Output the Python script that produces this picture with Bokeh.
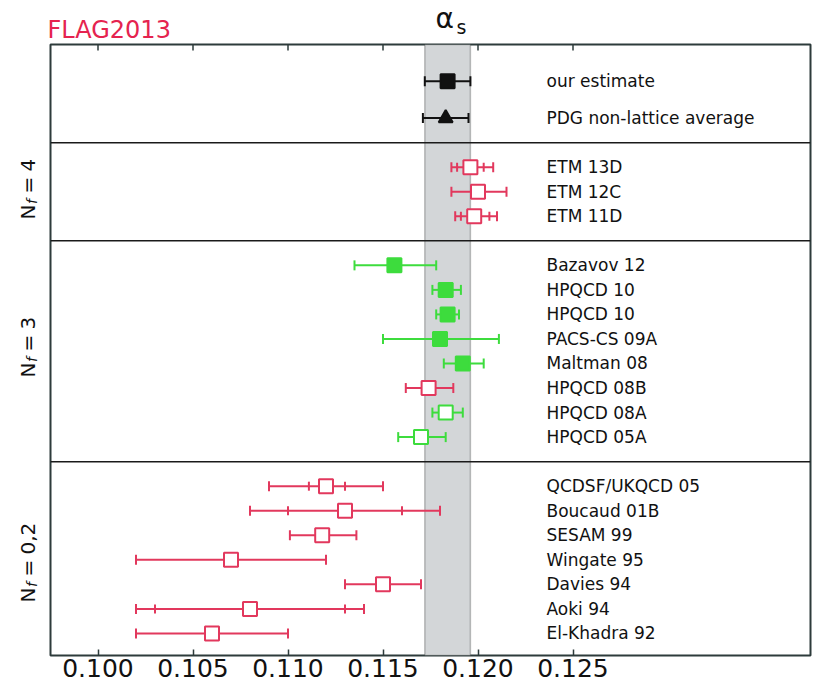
import numpy as np
from bokeh.plotting import figure
from bokeh.layouts import column, row
from bokeh.models import FixedTicker, LinearAxis, Span, BoxAnnotation, Label, ColumnDataSource, Range1d
from bokeh.core.properties import value
from bokeh.embed import file_html
from bokeh.resources import INLINE

# ---------------- data (top to bottom) ----------------
labels = ["our estimate", "PDG non-lattice average",
          "ETM 13D", "ETM 12C", "ETM 11D",
          "Bazavov 12", "HPQCD 10", "HPQCD 10", "PACS-CS 09A", "Maltman 08",
          "HPQCD 08B", "HPQCD 08A", "HPQCD 05A",
          "QCDSF/UKQCD 05", "Boucaud 01B", "SESAM 99", "Wingate 95",
          "Davies 94", "Aoki 94", "El-Khadra 92"]
group = ["avg", "avg",
         "4", "4", "4",
         "3", "3", "3", "3", "3", "3", "3", "3",
         "02", "02", "02", "02", "02", "02", "02"]
alpha_s = [0.1184, 0.1183,
           0.1196, 0.1200, 0.1198,
           0.1156, 0.1183, 0.1184, 0.1180, 0.1192, 0.1174, 0.1183, 0.1170,
           0.1120, 0.1130, 0.1118, 0.1070, 0.1150, 0.1080, 0.1060]
tot_lo = [0.1172, 0.1171,
          0.1186, 0.1186, 0.1188,
          0.1135, 0.1176, 0.1178, 0.1150, 0.1182, 0.1162, 0.1176, 0.1158,
          0.1090, 0.1080, 0.1101, 0.1020, 0.1130, 0.1020, 0.1020]
tot_hi = [0.1196, 0.1195,
          0.1208, 0.1215, 0.1210,
          0.1178, 0.1191, 0.1190, 0.1211, 0.1203, 0.1187, 0.1192, 0.1183,
          0.1150, 0.1180, 0.1136, 0.1120, 0.1170, 0.1140, 0.1100]
stat_lo = [None, None,
           0.1189, None, 0.1191,
           None, None, None, None, None, None, None, None,
           0.1111, 0.1100, None, None, None, 0.1030, None]
stat_hi = [None, None,
           0.1203, None, 0.1206,
           None, None, None, None, None, None, None, None,
           0.1130, 0.1160, None, None, None, 0.1130, None]
rating = ["black", "black",
          "red", "red", "red",
          "green", "green", "green", "green", "green", "red", "green", "green",
          "red", "red", "red", "red", "red", "red", "red"]
filled = [True, True,
          False, False, False,
          True, True, True, True, True, False, False, False,
          False, False, False, False, False, False, False]
shape = ["square", "triangle"] + ["square"] * 18

group_order = ["02", "3", "4", "avg"]          # bottom to top
group_title = {"02": "0,2", "3": "3", "4": "4"}
flag_estimate = (0.1184, 0.0012)
tick_values = [0.100, 0.105, 0.110, 0.115, 0.120, 0.125]
tick_labels = ["0.100", "0.105", "0.110", "0.115", "0.120", "0.125"]

# ---------------- layout of rows ----------------
n = len(labels)
ypos = [0.0] * n
y = 0.0
separators = []
for gi, g in enumerate(group_order):
    idx = [i for i in range(n) if group[i] == g][::-1]
    step = 1.5 if g == "avg" else 1.0
    for j, i in enumerate(idx):
        y += 1.0 if j == 0 else step
        ypos[i] = y
    if gi < len(group_order) - 1:
        y += 1.0
        separators.append(y)

COL = {"red": "#e2385d", "green": "#3ddc3d", "black": "#111111"}
colors = [COL[r] for r in rating]
fills = [c if f else "white" for c, f in zip(colors, filled)]
FRAME = "#2d3b3b"
TXT = "#111111"

X0, X1 = 0.0975, 0.1375
Y0, Y1 = 0.1, 25.0
ux = (X1 - X0) / 760.0

def kx(px):   # canvas pixel -> data x (annotation placement)
    return X0 + (px - 50) * ux

def ky(py):   # canvas pixel -> data y (annotation placement)
    return Y0 + (655 - py) * (Y1 - Y0) / 611.0

yr = Range1d(Y0, Y1)

def bare(fig):
    fig.grid.visible = False
    fig.background_fill_color = "white"
    fig.border_fill_color = "white"
    return fig

# ---------------- main panel ----------------
p = figure(width=766, height=644, x_range=Range1d(X0, X1), y_range=yr,
           output_backend="svg", toolbar_location=None,
           min_border_left=1, min_border_right=5, min_border_top=1, min_border_bottom=32,
           x_axis_location=None, y_axis_location=None)
bare(p)
p.outline_line_color = FRAME
p.outline_line_width = 2

ax = LinearAxis(ticker=FixedTicker(ticks=tick_values))
ax.major_label_overrides = {v: t for v, t in zip(tick_values, tick_labels)}
ax.axis_line_color = None
ax.major_tick_in = 6
ax.major_tick_out = 0
ax.minor_tick_line_color = None
ax.major_tick_line_color = FRAME
ax.major_tick_line_width = 1.5
ax.major_label_text_font = "DejaVu Sans"
ax.major_label_text_color = TXT
ax.major_label_text_font_size = "25px"
ax.major_label_standoff = 3
p.add_layout(ax, "below")

# inward ticks on the top edge (half of each dash is clipped away by the frame)
p.scatter(x=tick_values, y=[Y1] * len(tick_values), marker="dash", angle=np.pi / 2, size=12,
          line_color=FRAME, line_width=1.5)

est, err = flag_estimate
p.add_layout(BoxAnnotation(left=est - err, right=est + err, fill_color="#d3d6d8", fill_alpha=1.0,
                           line_color="#333333", line_width=1.5, level="underlay"))

for s in separators:
    p.add_layout(Span(location=s, dimension="width", line_color="#1a1a1a", line_width=1.5))

src = ColumnDataSource(dict(x=alpha_s, y=ypos, lo=tot_lo, hi=tot_hi, color=colors,
                            fill=fills, shape=shape, label=labels))
p.segment(x0="lo", y0="y", x1="hi", y1="y", line_color="color", line_width=2, source=src)
for key in ("lo", "hi"):
    p.scatter(x=key, y="y", marker="dash", angle=np.pi / 2, size=10, line_color="color",
              line_width=2, source=src)

sidx = [i for i in range(n) if stat_lo[i] is not None]
ssrc = ColumnDataSource(dict(lo=[stat_lo[i] for i in sidx], hi=[stat_hi[i] for i in sidx],
                             y=[ypos[i] for i in sidx], color=[colors[i] for i in sidx]))
for key in ("lo", "hi"):
    p.scatter(x=key, y="y", marker="dash", angle=np.pi / 2, size=9, line_color="color",
              line_width=2, source=ssrc)

p.scatter(x="x", y="y", marker="shape", size=14, fill_color="fill", line_color="color",
          line_width=2, source=src)

p.text(x=kx(546), y="y", text="label", text_font=value("DejaVu Sans"), text_font_size="17px",
       text_baseline="middle", text_align="left", text_color=TXT, source=src)

# ---------------- left panel: N_f group titles ----------------
left = figure(width=49, height=644, x_range=Range1d(0, 49), y_range=yr,
              output_backend="svg", toolbar_location=None,
              min_border_left=0, min_border_right=0, min_border_top=1, min_border_bottom=32,
              x_axis_location=None, y_axis_location=None)
bare(left)
left.outline_line_color = None
nstart = {"4": 219, "3": 377, "02": 602}
for g in ["4", "3", "02"]:
    common = dict(x=27, y=ky(nstart[g]), angle=np.pi / 2, text_align="left",
                  text_baseline="middle", text_font="DejaVu Sans", text_color=TXT)
    left.add_layout(Label(text="N", text_font_size="20px", **common))
    left.add_layout(Label(text="f", text_font_size="14px", text_font_style="italic",
                          x_offset=4, y_offset=15.5, **common))
    left.add_layout(Label(text="=", text_font_size="20px", y_offset=26, **common))
    left.add_layout(Label(text=group_title[g], text_font_size="20px", y_offset=48, **common))

# ---------------- top panel: logo and title ----------------
top = figure(width=815, height=43, x_range=Range1d(kx(0), kx(815)), y_range=Range1d(0, 43),
             output_backend="svg", toolbar_location=None,
             min_border_left=0, min_border_right=0, min_border_top=0, min_border_bottom=0,
             x_axis_location=None, y_axis_location=None)
bare(top)
top.outline_line_color = None
top.add_layout(Label(x=kx(435), y=43 - 18, text="α", text_font="DejaVu Sans", text_font_size="28px",
                     text_baseline="middle", text_color=TXT))
top.add_layout(Label(x=kx(456), y=43 - 26, text="s", text_font="DejaVu Sans", text_font_size="19px",
                     text_baseline="middle", text_color=TXT))
top.add_layout(Label(x=kx(47), y=43 - 29, text="FLAG2013", text_font="DejaVu Sans",
                     text_font_size="24px", text_baseline="middle", text_color="#e5234f"))

layout = column(top, row(left, p, spacing=0), spacing=0)
open("out.html", "w").write(file_html(layout, INLINE))
